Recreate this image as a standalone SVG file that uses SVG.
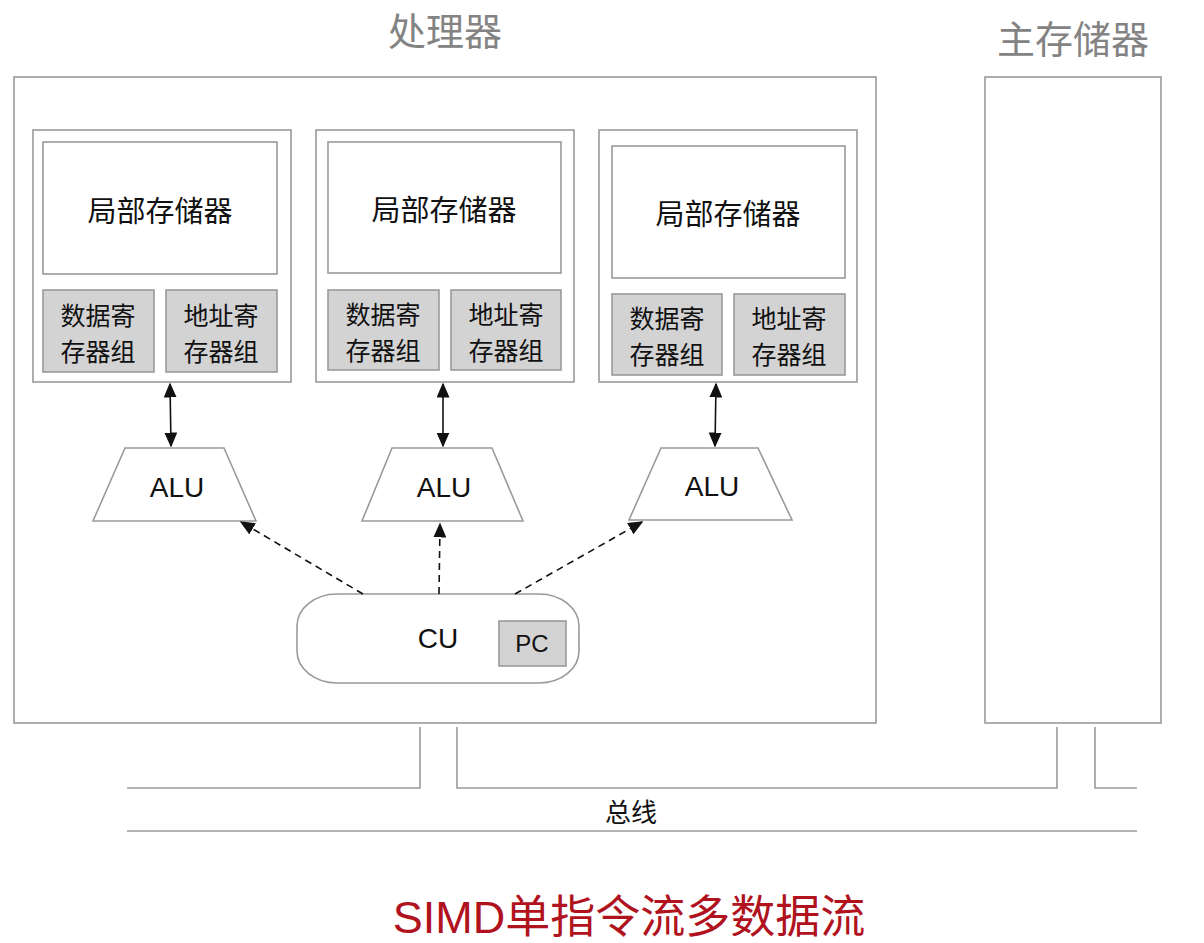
<svg xmlns="http://www.w3.org/2000/svg" width="1204" height="943" viewBox="0 0 1204 943">
<style>
.box{fill:#fff;stroke:#9a9a9a;stroke-width:1.6}
.reg{fill:#d3d3d3;stroke:#9a9a9a;stroke-width:1.6}
.t{font-family:"Noto Sans CJK SC","Liberation Sans",sans-serif;fill:#111;text-anchor:middle;dominant-baseline:central}
.l{font-family:"Liberation Sans","Noto Sans CJK SC",sans-serif;fill:#111;text-anchor:middle;dominant-baseline:central}
.title{font-family:"Noto Sans CJK SC",sans-serif;fill:#838383;text-anchor:middle;dominant-baseline:central;font-size:38px}
.bus{stroke:#9a9a9a;stroke-width:1.6;fill:none}
.solid{stroke:#111;stroke-width:1.6;fill:none}
.dash{stroke:#111;stroke-width:1.6;fill:none;stroke-dasharray:7 5}
</style>
<defs>
<marker id="ah" viewBox="0 0 10 10" refX="9" refY="5" markerWidth="15" markerHeight="13" markerUnits="userSpaceOnUse" orient="auto-start-reverse" preserveAspectRatio="none">
<path d="M0,0 L10,5 L0,10 z" fill="#111"/>
</marker>
</defs>
<rect width="1204" height="943" fill="#fff"/>

<text class="title" x="445" y="28">处理器</text>
<text class="title" x="1073" y="36">主存储器</text>

<g id="processor"><rect class="box" x="14" y="77" width="862" height="646"/></g>
<g id="memory"><rect class="box" x="985" y="77" width="176" height="646"/></g>

<g id="pe1">
<rect class="box" x="33" y="130" width="258" height="252"/>
<rect class="box" x="43" y="142" width="234" height="132"/>
<text class="t" x="160" y="209" font-size="29">局部存储器</text>
<rect class="reg" x="43" y="290" width="111" height="82"/>
<text class="t" x="98" y="314" font-size="25">数据寄</text>
<text class="t" x="98" y="350" font-size="25">存器组</text>
<rect class="reg" x="166" y="290" width="111" height="82"/>
<text class="t" x="221" y="314" font-size="25">地址寄</text>
<text class="t" x="221" y="350" font-size="25">存器组</text>
</g>

<g id="pe2">
<rect class="box" x="316" y="130" width="258" height="252"/>
<rect class="box" x="328" y="142" width="233" height="131"/>
<text class="t" x="444" y="208" font-size="29">局部存储器</text>
<rect class="reg" x="328" y="290" width="111" height="80"/>
<text class="t" x="383" y="313" font-size="25">数据寄</text>
<text class="t" x="383" y="349" font-size="25">存器组</text>
<rect class="reg" x="451" y="290" width="110" height="80"/>
<text class="t" x="506" y="313" font-size="25">地址寄</text>
<text class="t" x="506" y="349" font-size="25">存器组</text>
</g>

<g id="pe3">
<rect class="box" x="599" y="130" width="258" height="252"/>
<rect class="box" x="612" y="146" width="233" height="132"/>
<text class="t" x="728" y="212" font-size="29">局部存储器</text>
<rect class="reg" x="612" y="294" width="110" height="81"/>
<text class="t" x="667" y="317" font-size="25">数据寄</text>
<text class="t" x="667" y="353" font-size="25">存器组</text>
<rect class="reg" x="734" y="294" width="111" height="81"/>
<text class="t" x="789" y="317" font-size="25">地址寄</text>
<text class="t" x="789" y="353" font-size="25">存器组</text>
</g>

<g id="alu1">
<polygon class="box" points="125,448 224,448 256,521 93,521"/>
<text class="l" x="177" y="487" font-size="28">ALU</text>
</g>
<g id="alu2">
<polygon class="box" points="392,448 492,448 523,521 362,521"/>
<text class="l" x="444" y="487" font-size="28">ALU</text>
</g>
<g id="alu3">
<polygon class="box" points="661,448 758,448 792,520 629,520"/>
<text class="l" x="712" y="486" font-size="28">ALU</text>
</g>

<g id="cu">
<rect class="box" x="297" y="594" width="282" height="89" rx="40" ry="32"/>
<text class="l" x="438" y="638" font-size="28">CU</text>
<rect class="reg" x="499" y="621" width="67" height="45"/>
<text class="l" x="532" y="643" font-size="24">PC</text>
</g>

<g id="connectors">
<line class="solid" x1="170" y1="384" x2="171" y2="446" marker-start="url(#ah)" marker-end="url(#ah)"/>
<line class="solid" x1="443" y1="384" x2="443" y2="446" marker-start="url(#ah)" marker-end="url(#ah)"/>
<line class="solid" x1="716" y1="384" x2="715" y2="446" marker-start="url(#ah)" marker-end="url(#ah)"/>
<line class="dash" x1="363" y1="594" x2="241" y2="522" marker-end="url(#ah)"/>
<line class="dash" x1="439" y1="594" x2="440" y2="524" marker-end="url(#ah)"/>
<line class="dash" x1="515" y1="594" x2="642" y2="522" marker-end="url(#ah)"/>
</g>

<g id="bus">
<polyline class="bus" points="127,788 420,788 420,727"/>
<polyline class="bus" points="457,727 457,788 1057,788 1057,727"/>
<polyline class="bus" points="1095,727 1095,788 1137,788"/>
<line class="bus" x1="127" y1="831" x2="1137" y2="831"/>
<text class="t" x="631" y="810" font-size="26">总线</text>
</g>

<text x="629" y="917" font-family="'Liberation Sans','Noto Sans CJK SC',sans-serif" font-size="45" fill="#b0121e" text-anchor="middle" dominant-baseline="central">SIMD单指令流多数据流</text>
</svg>
